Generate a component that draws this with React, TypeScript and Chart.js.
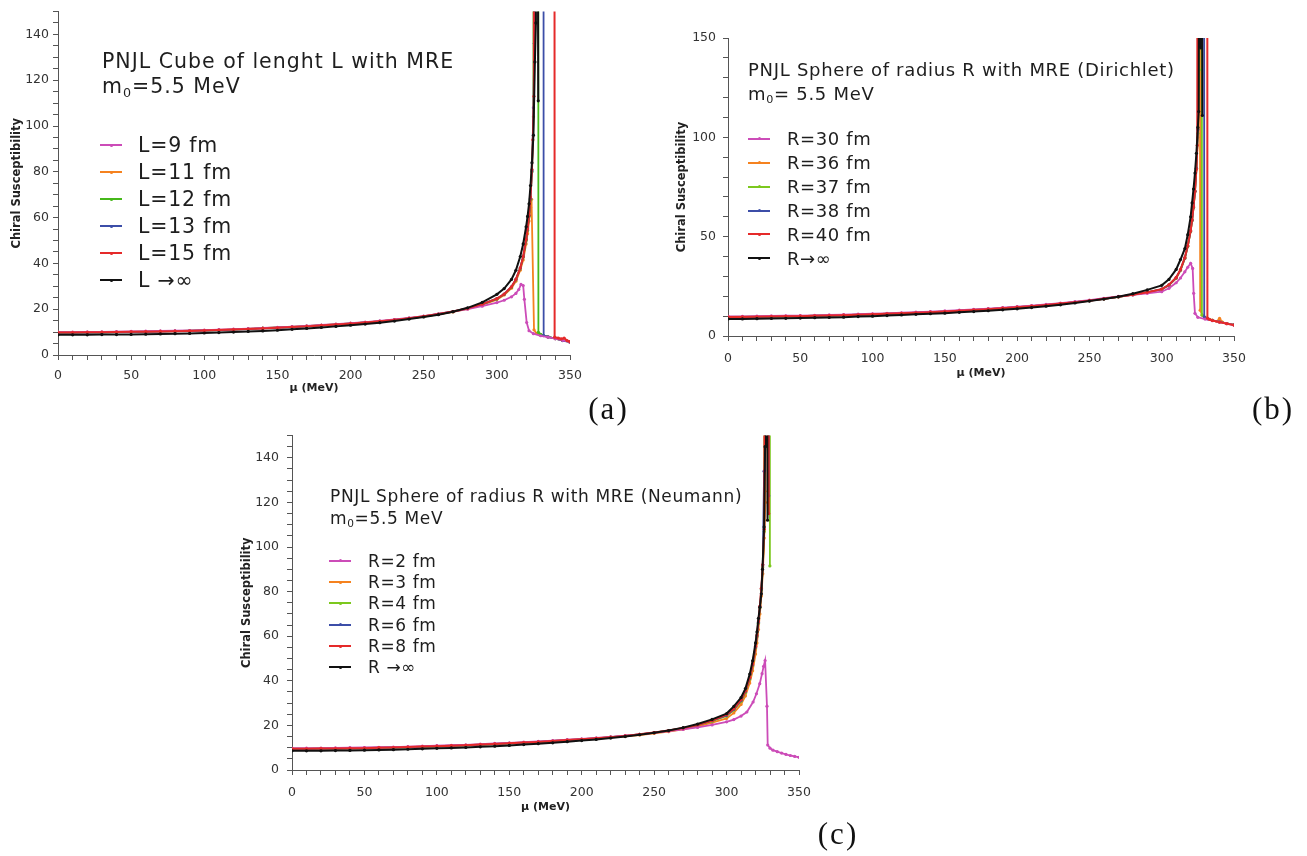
import React, { useEffect, useRef } from 'react';
import { Chart, registerables } from 'chart.js';

Chart.register(...registerables);

type Pt = [number, number];

// ---------- Panel (a): PNJL cube of length L ----------
const CUBE_L9: Pt[] = [[0,10.0],[10,10.0],[20,10.1],[30,10.1],[40,10.2],[50,10.3],[60,10.4],[70,10.5],[80,10.6],[90,10.7],[100,10.9],[110,11.1],[120,11.3],[130,11.5],[140,11.8],[150,12.1],[160,12.4],[170,12.7],[180,13.1],[190,13.5],[200,13.9],[210,14.4],[220,14.9],[230,15.5],[240,16.2],[250,17.0],[260,17.9],[270,18.9],[280,20.0],[290,21.3],[300,22.9],[305,23.9],[310,25.4],[313,26.9],[315,28.6],[316.5,30.8],[318,30.3],[318.8,24.3],[320.4,14.2],[322,10.6],[325,9.3],[330,8.4],[335,7.8],[340,7.1],[345,6.4],[350,5.7]];
const CUBE_L11: Pt[] = [[0,9.9],[10,9.9],[20,9.9],[30,10.0],[40,10.0],[50,10.1],[60,10.2],[70,10.3],[80,10.4],[90,10.6],[100,10.8],[110,11.0],[120,11.2],[130,11.4],[140,11.7],[150,12.0],[160,12.3],[170,12.6],[180,13.0],[190,13.4],[200,13.8],[210,14.2],[220,14.7],[230,15.3],[240,16.0],[250,16.8],[260,17.7],[270,18.8],[280,20.1],[290,21.9],[300,24.2],[305,26.2],[310,29.2],[313,32.2],[316,37.0],[318,41.5],[320,48.5],[321,53.0],[322,58.5],[323,64.5],[323.7,68.0],[325.4,11.0],[327,9.5],[330,8.7],[335,7.9],[340,7.1],[345,6.4],[350,5.7]];
const CUBE_L12: Pt[] = [[0,9.8],[10,9.8],[20,9.9],[30,9.9],[40,10.0],[50,10.1],[60,10.2],[70,10.3],[80,10.4],[90,10.6],[100,10.7],[110,10.9],[120,11.1],[130,11.4],[140,11.7],[150,12.0],[160,12.3],[170,12.6],[180,13.0],[190,13.4],[200,13.8],[210,14.2],[220,14.7],[230,15.3],[240,16.0],[250,16.8],[260,17.8],[270,18.9],[280,20.3],[290,22.1],[300,24.5],[305,26.5],[310,29.6],[313,32.8],[316,37.8],[318,42.8],[320,50.0],[321,54.5],[322,60.5],[323,68.0],[324,80.0],[325,104.0],[326,1000],[328,1000],[328.4,9.9],[330,9.0],[335,7.9],[340,7.2],[345,6.4],[350,5.7]];
const CUBE_L13: Pt[] = [[0,9.8],[10,9.8],[20,9.8],[30,9.9],[40,10.0],[50,10.1],[60,10.1],[70,10.2],[80,10.4],[90,10.5],[100,10.7],[110,10.9],[120,11.1],[130,11.3],[140,11.6],[150,11.9],[160,12.2],[170,12.5],[180,12.9],[190,13.3],[200,13.7],[210,14.2],[220,14.7],[230,15.3],[240,16.0],[250,16.9],[260,17.9],[270,19.0],[280,20.4],[290,22.2],[300,24.6],[305,26.6],[310,29.8],[313,33.0],[316,38.0],[318,43.0],[320,50.5],[321,55.0],[322,61.0],[323,68.5],[324,80.5],[325,108.0],[325.6,136.0],[326.2,1000],[331.5,1000],[332,8.5],[335,7.9],[340,7.1],[345,6.3],[350,5.6]];
const CUBE_L15: Pt[] = [[0,9.8],[10,9.8],[20,9.9],[30,9.9],[40,10.0],[50,10.1],[60,10.2],[70,10.3],[80,10.4],[90,10.5],[100,10.7],[110,10.9],[120,11.1],[130,11.3],[140,11.6],[150,11.9],[160,12.2],[170,12.5],[180,12.9],[190,13.3],[200,13.7],[210,14.2],[220,14.7],[230,15.3],[240,16.0],[250,16.9],[260,17.9],[270,19.0],[280,20.4],[290,22.2],[300,24.6],[305,26.6],[310,29.8],[313,33.0],[316,38.0],[318,43.0],[320,50.5],[321,55.0],[322,61.0],[323,69.0],[324,81.0],[324.6,94.0],[325.3,113.0],[325.8,1000],[339,1000],[339.5,7.8],[342,7.4],[344,7.0],[346,7.4],[348,6.3],[350,5.8]];
const CUBE_INF: Pt[] = [[0,8.8],[10,8.8],[20,8.8],[30,8.9],[40,8.9],[50,9.0],[60,9.1],[70,9.2],[80,9.3],[90,9.4],[100,9.6],[110,9.8],[120,10.0],[130,10.3],[140,10.5],[150,10.8],[160,11.2],[170,11.6],[180,12.0],[190,12.5],[200,13.0],[210,13.5],[220,14.1],[230,14.8],[240,15.7],[250,16.6],[260,17.6],[270,18.9],[280,20.6],[290,23.0],[300,26.5],[305,29.0],[310,33.0],[313,37.0],[316,43.0],[318,48.5],[320,56.0],[321,60.5],[322,66.0],[323,74.0],[324,84.0],[325,96.0],[326,128.0],[326.7,145.0],[327.3,400],[328.3,111.0]];

// ---------- Panel (b): sphere, Dirichlet ----------
const DIR_R30: Pt[] = [[0,9.9],[10,9.9],[20,10.0],[30,10.1],[40,10.2],[50,10.3],[60,10.4],[70,10.6],[80,10.8],[90,11.0],[100,11.2],[110,11.4],[120,11.7],[130,12.0],[140,12.3],[150,12.6],[160,13.0],[170,13.4],[180,13.8],[190,14.3],[200,14.8],[210,15.3],[220,15.9],[230,16.6],[240,17.3],[250,18.1],[260,19.0],[270,19.9],[280,20.7],[290,21.5],[300,22.3],[305,24.0],[310,26.8],[313,29.2],[316,32.3],[318,34.6],[320,36.6],[321.4,34.0],[322.1,21.5],[323,11.4],[325,9.4],[330,8.5],[335,7.7],[340,7.0],[345,6.2],[350,5.5]];
const DIR_R36: Pt[] = [[0,9.6],[10,9.6],[20,9.7],[30,9.8],[40,9.9],[50,10.0],[60,10.2],[70,10.3],[80,10.5],[90,10.7],[100,10.9],[110,11.2],[120,11.4],[130,11.7],[140,12.0],[150,12.3],[160,12.7],[170,13.1],[180,13.5],[190,14.0],[200,14.5],[210,15.0],[220,15.6],[230,16.3],[240,17.0],[250,17.8],[260,18.7],[270,19.7],[280,20.8],[290,22.0],[300,23.4],[305,25.5],[310,29.0],[313,33.0],[316,39.0],[318,45.0],[320,52.5],[321,58.0],[322,64.5],[323,72.5],[324,84.0],[325,100.0],[325.8,1000],[326.4,1000],[326.6,13.0],[328,10.5],[330,9.4],[335,8.0],[338,7.3],[340,8.9],[342,7.0],[345,6.3],[350,5.6]];
const DIR_R37: Pt[] = [[0,9.6],[10,9.7],[20,9.7],[30,9.8],[40,9.9],[50,10.0],[60,10.2],[70,10.3],[80,10.5],[90,10.7],[100,10.9],[110,11.2],[120,11.4],[130,11.7],[140,12.0],[150,12.3],[160,12.7],[170,13.1],[180,13.5],[190,14.0],[200,14.5],[210,15.0],[220,15.6],[230,16.3],[240,17.0],[250,17.8],[260,18.7],[270,19.7],[280,20.8],[290,22.0],[300,23.5],[305,25.6],[310,29.2],[313,33.2],[316,39.2],[318,45.2],[320,52.8],[321,58.2],[322,64.8],[323,72.8],[324,84.5],[325,102.0],[326,134.0],[326.6,1000],[327.5,1000],[327.8,10.6],[330,9.2],[335,7.9],[340,7.1],[345,6.3],[350,5.6]];
const DIR_R38: Pt[] = [[0,9.6],[10,9.6],[20,9.7],[30,9.8],[40,9.9],[50,10.0],[60,10.2],[70,10.3],[80,10.5],[90,10.7],[100,10.9],[110,11.2],[120,11.4],[130,11.7],[140,12.0],[150,12.3],[160,12.7],[170,13.1],[180,13.5],[190,14.0],[200,14.5],[210,15.0],[220,15.6],[230,16.3],[240,17.0],[250,17.8],[260,18.7],[270,19.7],[280,20.8],[290,22.0],[300,23.6],[305,25.7],[310,29.3],[313,33.3],[316,39.3],[318,45.3],[320,52.9],[321,58.3],[322,64.9],[323,72.9],[324,84.5],[325,104.0],[325.6,1000],[329.1,1000],[329.4,9.7],[332,8.6],[335,7.9],[340,7.1],[345,6.3],[350,5.6]];
const DIR_R40: Pt[] = [[0,9.6],[10,9.6],[20,9.7],[30,9.8],[40,9.9],[50,10.0],[60,10.2],[70,10.3],[80,10.5],[90,10.7],[100,10.9],[110,11.2],[120,11.4],[130,11.7],[140,12.0],[150,12.3],[160,12.7],[170,13.1],[180,13.5],[190,14.0],[200,14.5],[210,15.0],[220,15.6],[230,16.3],[240,17.0],[250,17.8],[260,18.7],[270,19.7],[280,20.8],[290,22.0],[300,23.6],[305,25.8],[310,29.5],[313,33.5],[316,39.5],[318,45.5],[320,53.0],[321,58.5],[322,65.0],[323,73.0],[324,84.0],[324.6,96.0],[325.2,1000],[331.3,1000],[331.6,9.0],[333,8.4],[335,7.8],[340,7.0],[345,6.2],[350,5.5]];
const DIR_INF: Pt[] = [[0,8.6],[10,8.6],[20,8.7],[30,8.8],[40,8.9],[50,9.0],[60,9.2],[70,9.3],[80,9.5],[90,9.8],[100,10.0],[110,10.3],[120,10.6],[130,10.9],[140,11.2],[150,11.5],[160,11.9],[170,12.3],[180,12.7],[190,13.2],[200,13.7],[210,14.3],[220,15.0],[230,15.7],[240,16.6],[250,17.6],[260,18.6],[270,19.8],[280,21.3],[290,23.2],[300,25.5],[305,28.5],[310,33.5],[313,38.5],[316,44.0],[318,51.0],[320,60.0],[321,67.0],[322,74.0],[323,82.0],[324,92.0],[325,105.0],[325.6,113.0],[326.2,400],[327,145.0],[327.6,400],[328.1,111.0]];

// ---------- Panel (c): sphere, Neumann ----------
const NEU_R2: Pt[] = [[0,9.8],[10,9.8],[20,9.8],[30,9.9],[40,10.0],[50,10.1],[60,10.2],[70,10.3],[80,10.5],[90,10.7],[100,10.9],[110,11.1],[120,11.3],[130,11.6],[140,11.9],[150,12.2],[160,12.5],[170,12.8],[180,13.2],[190,13.6],[200,14.0],[210,14.4],[220,14.9],[230,15.4],[240,16.0],[250,16.7],[260,17.4],[270,18.2],[280,19.1],[290,20.2],[300,21.6],[305,22.6],[310,24.2],[314,26.0],[318.3,30.5],[320.6,34.2],[322.9,38.7],[324.5,43.2],[325.6,46.5],[326.6,49.1],[327.9,28.6],[328.4,11.2],[330,9.8],[332,8.9],[335,8.2],[338,7.6],[341,7.0],[344,6.5],[347,6.1],[350,5.7]];
const NEU_R3: Pt[] = [[0,9.4],[10,9.4],[20,9.5],[30,9.5],[40,9.6],[50,9.7],[60,9.9],[70,10.0],[80,10.2],[90,10.4],[100,10.6],[110,10.8],[120,11.0],[130,11.3],[140,11.6],[150,11.9],[160,12.2],[170,12.5],[180,12.9],[190,13.3],[200,13.7],[210,14.1],[220,14.6],[230,15.1],[240,15.7],[250,16.4],[260,17.2],[270,18.2],[280,19.5],[290,21.2],[300,23.1],[305,25.6],[310,29.4],[313,33.2],[316,39.0],[318,44.5],[320,52.0],[321,57.0],[322,63.0],[323,70.0],[324,78.0],[325,88.0],[326,104.0],[326.8,120.0],[327.4,400],[328.4,400],[328.6,125.0]];
const NEU_R4: Pt[] = [[0,9.6],[10,9.6],[20,9.7],[30,9.7],[40,9.8],[50,9.9],[60,10.0],[70,10.1],[80,10.3],[90,10.5],[100,10.7],[110,10.9],[120,11.1],[130,11.4],[140,11.7],[150,12.0],[160,12.3],[170,12.6],[180,13.0],[190,13.4],[200,13.8],[210,14.2],[220,14.7],[230,15.3],[240,16.0],[250,16.8],[260,17.7],[270,18.8],[280,20.1],[290,21.9],[300,24.2],[305,26.9],[310,30.8],[313,34.8],[316,40.8],[318,46.8],[320,54.8],[321,59.8],[322,65.8],[323,72.8],[324,80.8],[325,91.0],[326,107.0],[326.8,400],[329.6,400],[329.9,91.5]];
const NEU_R6: Pt[] = [[0,9.5],[10,9.5],[20,9.6],[30,9.6],[40,9.7],[50,9.8],[60,10.0],[70,10.1],[80,10.3],[90,10.5],[100,10.7],[110,10.9],[120,11.1],[130,11.4],[140,11.7],[150,12.0],[160,12.3],[170,12.6],[180,13.0],[190,13.4],[200,13.8],[210,14.2],[220,14.7],[230,15.3],[240,16.0],[250,16.8],[260,17.7],[270,18.8],[280,20.2],[290,22.1],[300,24.5],[305,27.2],[310,31.2],[313,35.2],[316,41.2],[318,47.2],[320,55.2],[321,60.2],[322,66.2],[323,73.2],[324,81.2],[325,92.0],[325.9,134.0],[326.5,400],[328.8,400],[329.1,123.0]];
const NEU_R8: Pt[] = [[0,9.5],[10,9.5],[20,9.6],[30,9.6],[40,9.7],[50,9.8],[60,10.0],[70,10.1],[80,10.3],[90,10.5],[100,10.7],[110,10.9],[120,11.1],[130,11.4],[140,11.7],[150,12.0],[160,12.3],[170,12.6],[180,13.0],[190,13.4],[200,13.8],[210,14.2],[220,14.7],[230,15.3],[240,16.0],[250,16.8],[260,17.7],[270,18.8],[280,20.2],[290,22.2],[300,24.8],[305,27.5],[310,31.5],[313,35.5],[316,41.5],[318,47.5],[320,55.5],[321,60.5],[322,66.5],[323,73.5],[324,81.5],[325,92.0],[326,108.0],[326.8,400],[328.9,400],[329.1,115.0]];
const NEU_INF: Pt[] = [[0,8.6],[10,8.6],[20,8.6],[30,8.7],[40,8.8],[50,8.9],[60,9.0],[70,9.1],[80,9.3],[90,9.5],[100,9.7],[110,9.9],[120,10.1],[130,10.4],[140,10.7],[150,11.0],[160,11.4],[170,11.8],[180,12.2],[190,12.7],[200,13.2],[210,13.7],[220,14.3],[230,15.0],[240,15.8],[250,16.7],[260,17.7],[270,19.0],[280,20.6],[290,22.7],[300,25.3],[305,28.5],[310,32.5],[313,36.5],[316,43.0],[318,49.0],[320,57.0],[321,62.0],[322,68.0],[323,73.0],[324,79.0],[324.8,90.0],[325.9,109.0],[326.6,145.0],[327.2,400],[328.3,112.0]];

// ---------- labels ----------
const LABELS_A = ['L=9 fm', 'L=11 fm', 'L=12 fm', 'L=13 fm', 'L=15 fm', 'L \u2192\u221E'];
const LABELS_B = ['R=30 fm', 'R=36 fm', 'R=37 fm', 'R=38 fm', 'R=40 fm', 'R\u2192\u221E'];
const LABELS_C = ['R=2 fm', 'R=3 fm', 'R=4 fm', 'R=6 fm', 'R=8 fm', 'R \u2192\u221E'];

const X_TITLE = '\u03BC (MeV)';
const Y_TITLE = 'Chiral Susceptibility';

const MAGENTA = '#cc4cb8';
const ORANGE = '#f5821f';
const GREEN = '#46b81a';
const LIME = '#7cc81e';
const BLUE = '#3c4ea8';
const RED = '#e52a2a';
const BLACK = '#111111';
const AXIS = '#555555';
const FONT = '"DejaVu Sans", Verdana, sans-serif';

type PanelCfg = {
  left: number; top: number; w: number; h: number;
  padTop: number; padRight: number; yW: number; xH: number;
  yStep: number; yMajor: number;
  xTickPad: number; yTickPad: number; xTitlePad: number; yTitlePad: number;
  series: { data: Pt[]; color: string; order: number; bw: number }[];
};

function PanelChart({ cfg }: { cfg: PanelCfg }) {
  const ref = useRef<HTMLCanvasElement>(null);
  useEffect(() => {
    const chart = new Chart(ref.current as HTMLCanvasElement, {
      type: 'line',
      data: {
        datasets: cfg.series.map((s) => ({
          data: s.data.map(([x, y]) => ({ x, y })),
          borderColor: s.color,
          backgroundColor: s.color,
          borderWidth: s.bw,
          pointRadius: 1.6,
          pointBorderWidth: 0,
          pointHoverRadius: 0,
          tension: 0,
          fill: false,
          order: s.order,
        })),
      },
      options: {
        responsive: false,
        animation: false,
        events: [],
        layout: { padding: { top: cfg.padTop, right: cfg.padRight, left: 0, bottom: 0 } },
        plugins: { legend: { display: false }, tooltip: { enabled: false }, title: { display: false } },
        scales: {
          x: {
            type: 'linear',
            min: 0,
            max: 350,
            afterFit: (s: any) => { s.height = cfg.xH; },
            ticks: {
              stepSize: 10,
              autoSkip: false,
              maxRotation: 0,
              padding: cfg.xTickPad,
              color: '#333',
              font: { family: FONT, size: 12.5 },
              callback: (v: any) => (Math.round(v) % 50 === 0 ? String(Math.round(v)) : ''),
            },
            grid: { drawOnChartArea: false, drawTicks: true, tickLength: 5, color: AXIS },
            border: { display: true, color: AXIS, width: 1 },
            title: {
              display: true,
              text: X_TITLE,
              color: '#222',
              font: { family: FONT, size: 11, weight: 'bold' },
              padding: { top: 0, bottom: cfg.xTitlePad },
            },
          },
          y: {
            type: 'linear',
            min: 0,
            max: 150,
            afterFit: (s: any) => { s.width = cfg.yW; },
            ticks: {
              stepSize: cfg.yStep,
              autoSkip: false,
              padding: cfg.yTickPad,
              color: '#333',
              font: { family: FONT, size: 12.5 },
              callback: (v: any) => (Math.round(v) % cfg.yMajor === 0 ? String(Math.round(v)) : ''),
            },
            grid: { drawOnChartArea: false, drawTicks: true, tickLength: 5, color: AXIS },
            border: { display: true, color: AXIS, width: 1 },
            title: {
              display: true,
              text: Y_TITLE,
              color: '#222',
              font: { family: FONT, size: 11.5, weight: 'bold' },
              padding: { top: cfg.yTitlePad, bottom: 0 },
            },
          },
        },
      } as any,
    });
    return () => chart.destroy();
  }, []);
  return (
    <canvas
      ref={ref}
      width={cfg.w}
      height={cfg.h}
      style={{ position: 'absolute', left: cfg.left, top: cfg.top, width: cfg.w, height: cfg.h }}
    />
  );
}

const Sub0 = () => (
  <span style={{ fontSize: '0.62em', position: 'relative', top: '0.28em' }}>0</span>
);

function Overlay({ left, tops, fs, ls, lines }: { left: number; tops: number[]; fs: number; ls: number; lines: React.ReactNode[] }) {
  return (
    <>
      {lines.map((l, i) => (
        <div key={i} style={{ position: 'absolute', left, top: tops[i], fontFamily: FONT, fontSize: fs, lineHeight: `${Math.round(fs * 1.2)}px`, letterSpacing: ls, color: '#1e1e1e', whiteSpace: 'nowrap' }}>{l}</div>
      ))}
    </>
  );
}

function Legend({ x0, x1, tx, cys, fs, ls, labels, colors }: { x0: number; x1: number; tx: number; cys: number[]; fs: number; ls: number; labels: string[]; colors: string[] }) {
  return (
    <>
      {labels.map((lab, i) => (
        <React.Fragment key={i}>
          <div style={{ position: 'absolute', left: x0, top: cys[i] - 1, width: x1 - x0, height: 2, background: colors[i] }} />
          <div style={{ position: 'absolute', left: (x0 + x1) / 2 - 1.5, top: cys[i] - 1.5, width: 3, height: 3, borderRadius: 2, background: colors[i] }} />
          <div style={{ position: 'absolute', left: tx, top: cys[i] - fs * 0.58, fontFamily: FONT, fontSize: fs, lineHeight: `${Math.round(fs * 1.2)}px`, letterSpacing: ls, color: '#1e1e1e', whiteSpace: 'nowrap' }}>{lab}</div>
        </React.Fragment>
      ))}
    </>
  );
}

const PANEL_A: PanelCfg = {
  left: 0, top: 0, w: 600, h: 400, padTop: 7, padRight: 30, yW: 58, xH: 45,
  yStep: 5, yMajor: 20, xTickPad: 8.5, yTickPad: 4, xTitlePad: 5, yTitlePad: 10,
  series: [
    { data: CUBE_L9, color: MAGENTA, order: 2, bw: 1.8 },
    { data: CUBE_L11, color: ORANGE, order: 5, bw: 1.8 },
    { data: CUBE_L12, color: GREEN, order: 4, bw: 1.8 },
    { data: CUBE_L13, color: BLUE, order: 3, bw: 1.8 },
    { data: CUBE_L15, color: RED, order: 1, bw: 2 },
    { data: CUBE_INF, color: BLACK, order: 0, bw: 2 },
  ],
};

const PANEL_B: PanelCfg = {
  left: 670, top: 20, w: 600, h: 380, padTop: 18, padRight: 36, yW: 58, xH: 64,
  yStep: 10, yMajor: 50, xTickPad: 10.5, yTickPad: 7, xTitlePad: 20, yTitlePad: 5,
  series: [
    { data: DIR_R30, color: MAGENTA, order: 2, bw: 1.8 },
    { data: DIR_R36, color: ORANGE, order: 5, bw: 1.8 },
    { data: DIR_R37, color: LIME, order: 4, bw: 1.8 },
    { data: DIR_R38, color: BLUE, order: 3, bw: 1.8 },
    { data: DIR_R40, color: RED, order: 1, bw: 2 },
    { data: DIR_INF, color: BLACK, order: 0, bw: 2 },
  ],
};

const PANEL_C: PanelCfg = {
  left: 232, top: 420, w: 600, h: 410, padTop: 14, padRight: 33, yW: 60, xH: 60,
  yStep: 5, yMajor: 20, xTickPad: 10, yTickPad: 8, xTitlePad: 16.5, yTitlePad: 8,
  series: [
    { data: NEU_R2, color: MAGENTA, order: 2, bw: 1.8 },
    { data: NEU_R3, color: ORANGE, order: 5, bw: 1.8 },
    { data: NEU_R4, color: LIME, order: 4, bw: 1.8 },
    { data: NEU_R6, color: BLUE, order: 3, bw: 1.8 },
    { data: NEU_R8, color: RED, order: 1, bw: 2 },
    { data: NEU_INF, color: BLACK, order: 0, bw: 2 },
  ],
};

const COLORS_A = [MAGENTA, ORANGE, GREEN, BLUE, RED, BLACK];
const COLORS_BC = [MAGENTA, ORANGE, LIME, BLUE, RED, BLACK];

const panelLabelStyle = (cx: number, top: number): React.CSSProperties => ({
  position: 'absolute', left: cx - 40, top, width: 80, textAlign: 'center',
  fontFamily: '"Liberation Serif", "Times New Roman", serif', fontSize: 31, lineHeight: '31px',
  letterSpacing: 2, color: '#111',
});

export default function App() {
  return (
    <div style={{ position: 'absolute', left: 0, top: 0, width: 1307, height: 856, background: '#fff', overflow: 'hidden' }}>
      <PanelChart cfg={PANEL_A} />
      <PanelChart cfg={PANEL_B} />
      <PanelChart cfg={PANEL_C} />

      <Overlay left={102} tops={[49, 74]} fs={20.5} ls={1} lines={['PNJL Cube of lenght L with MRE', <>m<Sub0 />=5.5 MeV</>]} />
      <Legend x0={100} x1={122} tx={138} cys={[145, 172, 199, 226, 253, 280]} fs={20.5} ls={0.8} labels={LABELS_A} colors={COLORS_A} />

      <Overlay left={748} tops={[58.8, 82.5]} fs={18} ls={0.7} lines={['PNJL Sphere of radius R with MRE (Dirichlet)', <>m<Sub0 />= 5.5 MeV</>]} />
      <Legend x0={748} x1={770} tx={787} cys={[138.5, 162.5, 186.5, 210.5, 234, 258]} fs={18} ls={0.6} labels={LABELS_B} colors={COLORS_BC} />

      <Overlay left={330} tops={[486.4, 508]} fs={17} ls={0.65} lines={['PNJL Sphere of radius R with MRE (Neumann)', <>m<Sub0 />=5.5 MeV</>]} />
      <Legend x0={329} x1={351} tx={368} cys={[560.5, 582, 603, 624.5, 646, 667]} fs={17} ls={0.6} labels={LABELS_C} colors={COLORS_BC} />

      <div style={panelLabelStyle(608.5, 393)}>(a)</div>
      <div style={panelLabelStyle(1273, 393)}>(b)</div>
      <div style={panelLabelStyle(838, 818)}>(c)</div>
    </div>
  );
}
